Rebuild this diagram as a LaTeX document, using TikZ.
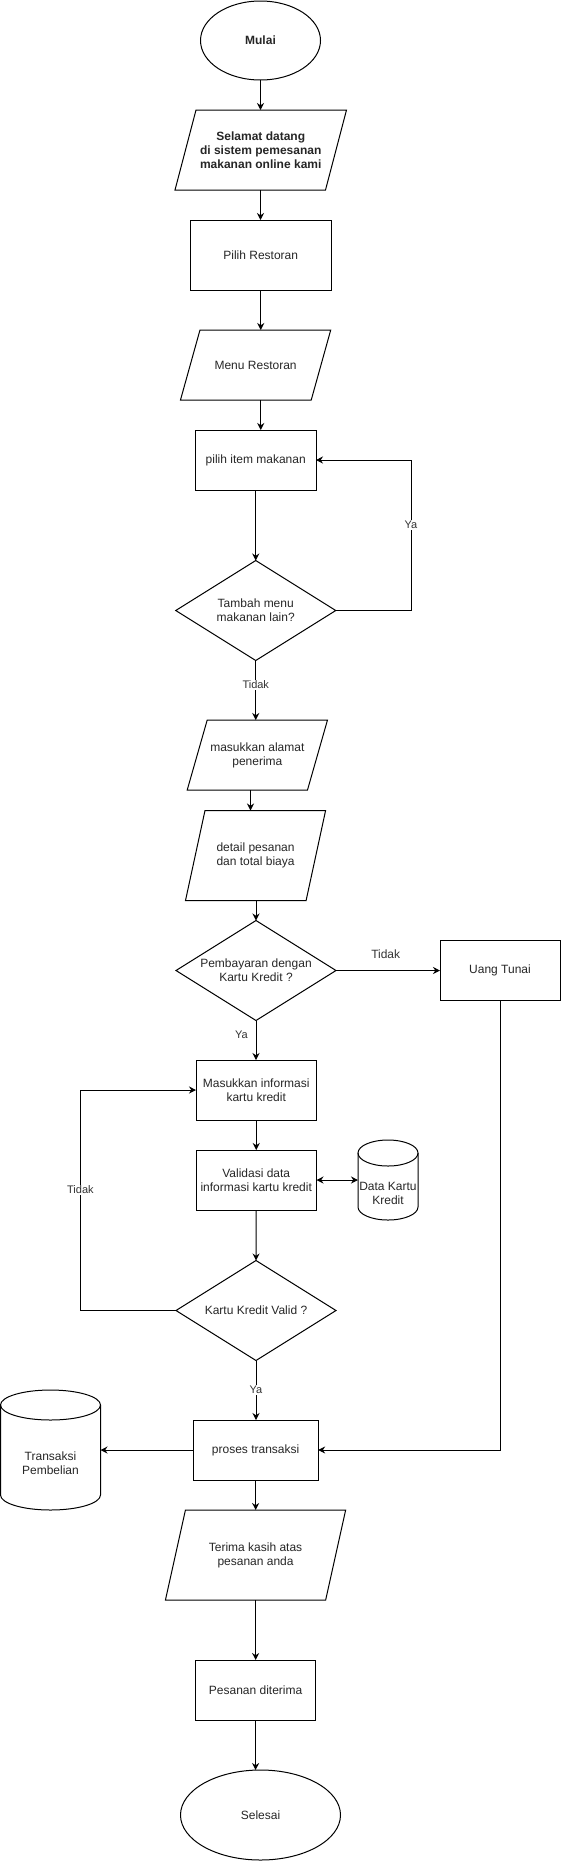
\documentclass[tikz,border=0pt]{standalone}
\usepackage{fontspec}
\setmainfont{Liberation Sans}
\usetikzlibrary{shapes.geometric,arrows.meta,calc}

\newcommand\parashape[2]{\draw[lw] ([xshift=#2]#1.north west) -- ([xshift=#2]#1.north east) -- ([xshift=-#2]#1.south east) -- ([xshift=-#2]#1.south west) -- cycle;}
\newcommand\cylshape[3]{%
  \draw[lw] ($(#1.north)+(0,#3)$) ellipse [x radius=#2 pt, y radius=#3 pt];
  \draw[lw] ($(#1.north west)+(0,#3)$) -- ($(#1.south west)+(0,-#3)$)
    .. controls +(0,0.5523*#3) and +(-0.5523*#2,0) .. (#1.south)
    .. controls +(0.5523*#2,0) and +(0,0.5523*#3) .. ($(#1.south east)+(0,-#3)$)
    -- ($(#1.north east)+(0,#3)$);}

\begin{document}
\begin{tikzpicture}[x=1pt,y=-1pt,
  every node/.style={font=\fontsize{12}{14}\selectfont, text=black!85, align=center, inner sep=0pt, outer sep=0pt},
  lw/.style={line width=1pt},
  proc/.style 2 args={rectangle, draw, line width=1pt, minimum width=#1 pt, minimum height=#2 pt},
  pbody/.style 2 args={rectangle, minimum width=#1 pt, minimum height=#2 pt},
  decision/.style={diamond, draw, line width=1pt, aspect=1.6, minimum width=160pt, minimum height=100pt},
  terminal/.style 2 args={ellipse, draw, line width=1pt, minimum width=#1 pt, minimum height=#2 pt},
  elabel/.style={fill=white, font=\fontsize{11}{13}\selectfont, text=black!80, inner sep=1pt},
  arr/.style={line width=1pt, -{Stealth[length=7pt,width=7pt]}},
  darr/.style={line width=1pt, {Stealth[length=7pt,width=7pt]}-{Stealth[length=7pt,width=7pt]}}
]
\useasboundingbox (0,0) rectangle (562,1861);

% nodes
\node[terminal={120}{79}, font=\fontsize{12}{14}\selectfont\bfseries] (mulai) at (260.5,40.5) {Mulai};
\node[pbody={150.5}{80}, font=\fontsize{12}{14}\selectfont\bfseries] (welcome) at (260.75,150) {Selamat datang\\di sistem pemesanan\\makanan online kami};
\parashape{welcome}{10.5pt}
\node[proc={140.5}{70}] (pilihresto) at (260.75,255) {Pilih Restoran};
\node[pbody={130.75}{70}] (menu) at (255.6,365) {Menu Restoran};
\parashape{menu}{9.75pt}
\node[proc={120.5}{60}] (item) at (255.75,460) {pilih item makanan};
\node[decision] (tambah) at (255.75,610.5) {Tambah menu\\makanan lain?};
\node[pbody={120.3}{70}] (alamat) at (257.35,755) {masukkan alamat\\penerima};
\parashape{alamat}{10pt}
\node[pbody={120.6}{90}] (detail) at (255.55,855.5) {detail pesanan\\dan total biaya};
\parashape{detail}{9.75pt}
\node[decision] (bayar) at (256,970.5) {Pembayaran dengan\\Kartu Kredit ?};
\node[proc={120}{60}] (tunai) at (500,970) {Uang Tunai};
\node[proc={120.5}{60}] (masukkan) at (256.25,1090) {Masukkan informasi\\kartu kredit};
\node[proc={120.5}{60}] (validasi) at (256.25,1180) {Validasi data\\informasi kartu kredit};
\node[pbody={60}{80}] (datakartu) at (388,1180) {};
\cylshape{datakartu}{30}{13}
\node (datakartutxt) at (388,1193) {Data Kartu\\Kredit};
\node[decision] (valid) at (256,1310.5) {Kartu Kredit Valid ?};
\node[proc={125}{60}] (proses) at (255.65,1450) {proses transaksi};
\node[pbody={100}{120}] (transaksi) at (50.5,1450) {};
\cylshape{transaksi}{50}{15}
\node (transaksitxt) at (50.5,1463) {Transaksi\\Pembelian};
\node[pbody={160.2}{90}] (terima) at (255.55,1555) {Terima kasih atas\\pesanan anda};
\parashape{terima}{10pt}
\node[proc={120.2}{60}] (pesanan) at (255.6,1690) {Pesanan diterima};
\node[terminal={160}{90}] (selesai) at (260.5,1815) {Selesai};

\coordinate (rloop) at (411,0);
\coordinate (lloop) at (80.4,0);

% connectors
\draw[arr] (mulai.south) -- (mulai.south |- welcome.north);
\draw[arr] (mulai.south |- welcome.south) -- (mulai.south |- pilihresto.north);
\draw[arr] (pilihresto.south) -- (pilihresto.south |- menu.north);
\draw[arr] (pilihresto.south |- menu.south) -- (pilihresto.south |- item.north);
\draw[arr] (item.south) -- (tambah.north);
\draw[arr] (tambah.east) -- (tambah.east -| rloop) |- (item.east);
\draw[arr] (tambah.south) -- (tambah.south |- alamat.north);
\draw[arr] ([xshift=-6.85pt]alamat.south) -- ([xshift=-6.85pt]alamat.south |- detail.north);
\draw[arr] (bayar.north |- detail.south) -- (bayar.north);
\draw[arr] (bayar.east) -- (bayar.east -| tunai.west);
\draw[arr] (bayar.south) -- (bayar.south |- masukkan.north);
\draw[arr] (masukkan.south) -- (validasi.north);
\draw[darr] (validasi.east) -- (validasi.east -| datakartu.west);
\draw[arr] (validasi.south) -- (valid.north);
\draw[arr] (valid.west) -- (valid.west -| lloop) |- (masukkan.west);
\draw[arr] (valid.south) -- (valid.south |- proses.north);
\draw[arr] (tunai.south) |- (proses.east);
\draw[arr] (proses.west) -- (proses.west -| transaksi.east);
\draw[arr] (proses.south) -- (proses.south |- terima.north);
\draw[arr] (proses.south |- terima.south) -- (proses.south |- pesanan.north);
\draw[arr] (pesanan.south) -- (pesanan.south |- selesai.north);

% labels
\node[elabel] (lya1) at (411,525) {Ya};
\node[elabel] (ltidak1) at (255.75,685) {Tidak};
\node[font=\fontsize{12}{14}\selectfont, text=black!80] (ltidak2) at (385.7,954) {Tidak};
\node[font=\fontsize{11}{13}\selectfont, text=black!80] (lya2) at (241.5,1035) {Ya};
\node[elabel] (ltidak3) at (80.4,1190) {Tidak};
\node[elabel] (lya3) at (256,1390) {Ya};
\end{tikzpicture}
\end{document}
